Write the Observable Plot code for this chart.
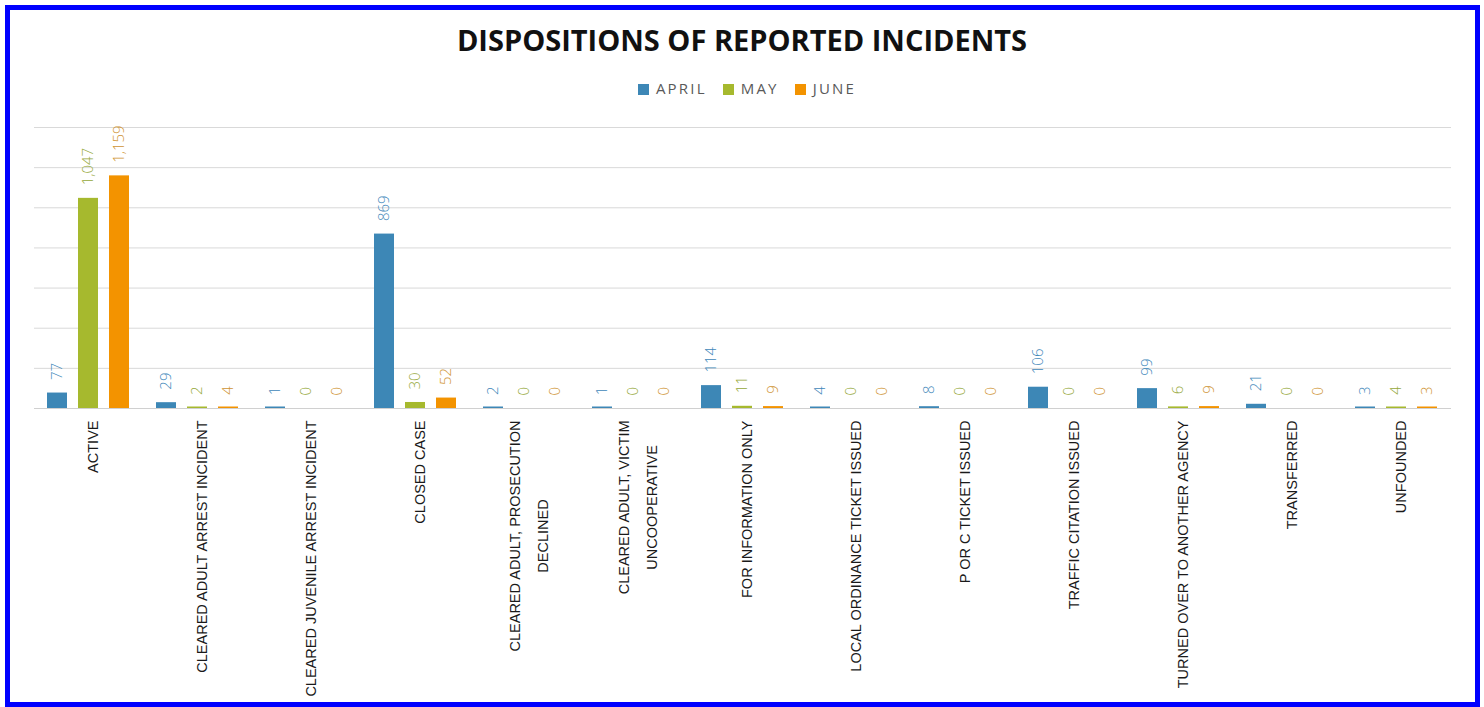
<!DOCTYPE html>
<html>
<head>
<meta charset="utf-8">
<script src="https://cdn.jsdelivr.net/npm/d3@7"></script>
<script src="https://cdn.jsdelivr.net/npm/@observablehq/plot@0.6"></script>
<style>
  html, body { margin: 0; padding: 0; background: #fff; }
  #wrap { position: relative; width: 1484px; height: 707px; overflow: hidden; background: #fff; }
  #frame { position: absolute; left: 5px; top: 5px; width: 1475px; height: 702px; box-sizing: border-box;
           border: 5px solid #0000ff; pointer-events: none; }
  #title { position: absolute; left: 0; top: 22px; width: 1484px; height: 36px; line-height: 36px; text-align: center;
           font-family: "Open Sans", sans-serif; font-weight: 700; font-size: 29px; color: #111; }
  #legend { position: absolute; left: 0; top: 77px; width: 1494px; height: 22px; line-height: 22px; text-align: center;
            font-family: "Open Sans", sans-serif; font-size: 15px; color: #595959; letter-spacing: 2.2px; }
  #legend span.item { display: inline-block; margin: 0 8px; }
  #legend span.sw { display: inline-block; width: 11px; height: 11px; margin-right: 7px; vertical-align: -0.5px; }
  #chart { position: absolute; left: 0; top: 110px; }
</style>
</head>
<body>
<div id="wrap">
  <div id="title">DISPOSITIONS OF REPORTED INCIDENTS</div>
  <div id="legend"></div>
  <div id="chart"></div>
  <div id="frame"></div>
</div>
<script>
const categories = [
  "ACTIVE",
  "CLEARED ADULT ARREST INCIDENT",
  "CLEARED JUVENILE ARREST INCIDENT",
  "CLOSED CASE",
  "CLEARED ADULT, PROSECUTION\nDECLINED",
  "CLEARED ADULT, VICTIM\nUNCOOPERATIVE",
  "FOR INFORMATION ONLY",
  "LOCAL ORDINANCE TICKET ISSUED",
  "P OR C TICKET ISSUED",
  "TRAFFIC CITATION ISSUED",
  "TURNED OVER TO ANOTHER AGENCY",
  "TRANSFERRED",
  "UNFOUNDED"
];
const series = ["APRIL", "MAY", "JUNE"];
const april = [77, 29, 1, 869, 2, 1, 114, 4, 8, 106, 99, 21, 3];
const may   = [1047, 2, 0, 30, 0, 0, 11, 0, 0, 0, 6, 0, 4];
const june  = [1159, 4, 0, 52, 0, 0, 9, 0, 0, 0, 9, 0, 3];
const barColors   = ["#3d87b6", "#a6b92e", "#f39300"];
const labelColors = ["#3f88ba", "#95a83a", "#cf9433"];
const yTicks = [0, 200, 400, 600, 800, 1000, 1200, 1400];

const valuesBySeries = [april, may, june];
const data = [];
series.forEach((s, si) => {
  categories.forEach((c, ci) => data.push({cat: c, series: s, value: valuesBySeries[si][ci]}));
});

// Legend
const legend = document.getElementById("legend");
series.forEach((s, i) => {
  const item = document.createElement("span");
  item.className = "item";
  const sw = document.createElement("span");
  sw.className = "sw";
  sw.style.background = barColors[i];
  item.appendChild(sw);
  item.appendChild(document.createTextNode(s));
  legend.appendChild(item);
});

const labelMarks = series.map((s, i) =>
  Plot.text(data.filter(d => d.series === s), {
    fx: "cat", x: "series", y: "value",
    text: d => d3.format(",")(d.value),
    rotate: -90, textAnchor: "start", dy: -13,
    fill: labelColors[i], fontSize: 15, fontWeight: 300,
    fontFamily: "Open Sans, sans-serif"
  })
);

const chart = Plot.plot({
  width: 1484,
  height: 590,
  marginTop: 17,
  marginBottom: 292,
  marginLeft: 30,
  marginRight: 30,
  style: {background: "transparent", overflow: "visible"},
  fx: {domain: categories, padding: 0, paddingInner: 0, paddingOuter: 0, axis: null},
  x: {domain: series, paddingInner: 0.35, paddingOuter: 0.41, axis: null},
  y: {domain: [0, 1400], axis: null},
  color: {domain: series, range: barColors},
  marks: [
    Plot.ruleY(yTicks.slice(1), {stroke: "#d9d9d9", strokeWidth: 1}),
    Plot.barY(data, {fx: "cat", x: "series", y: "value", fill: "series"}),
    Plot.tickY(data.filter(d => d.value > 0), {fx: "cat", x: "series", y: 0, stroke: "series", strokeWidth: 2, dy: -1}),
    Plot.ruleY([yTicks[0]], {stroke: "#d0d0d0", strokeWidth: 1}),
    ...labelMarks,
    Plot.text(categories, {
      fx: d => d, text: d => d,
      frameAnchor: "bottom", dy: 12,
      rotate: -90, textAnchor: "end", lineAnchor: "middle", lineHeight: 1.9,
      fontSize: 14.5, fill: "#1a1a1a", fontFamily: "Liberation Sans, Arial, sans-serif"
    })
  ]
});
document.getElementById("chart").appendChild(chart);

// center multi-line category labels on their longest line
chart.querySelectorAll("text").forEach(t => {
  const spans = t.querySelectorAll("tspan");
  if (spans.length > 1) {
    let maxLen = 0;
    spans.forEach(sp => { maxLen = Math.max(maxLen, sp.getComputedTextLength()); });
    spans.forEach(sp => {
      sp.setAttribute("text-anchor", "middle");
      sp.setAttribute("x", -maxLen / 2);
    });
  }
});
</script>
</body>
</html>
